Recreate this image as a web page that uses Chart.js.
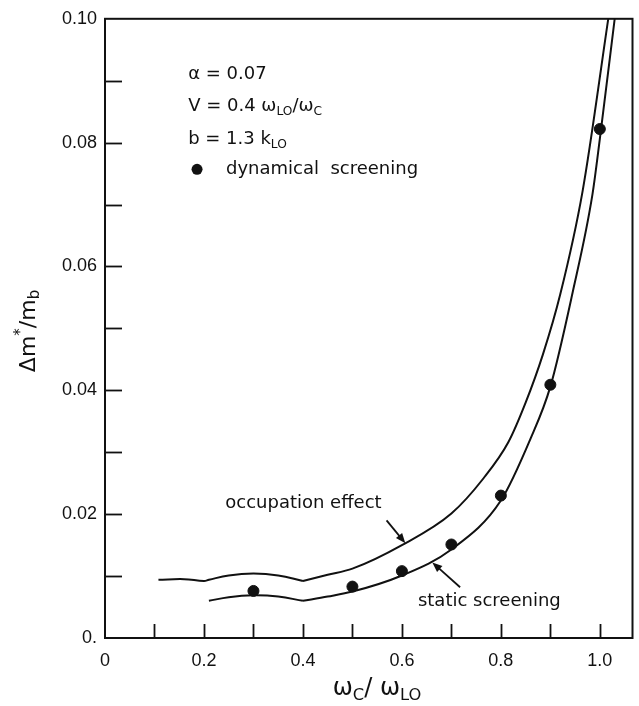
<!DOCTYPE html>
<html><head><meta charset="utf-8">
<script src="https://cdn.jsdelivr.net/npm/chart.js@4"></script>
<style>html,body{margin:0;padding:0;background:#fff;}canvas{display:block;}</style>
</head><body>
<canvas id="c" width="639" height="706"></canvas>
<script>
// ---- data ----
const occupationX = [0.108, 0.16, 0.20, 0.21, 0.25, 0.30, 0.35, 0.40, 0.45, 0.50, 0.60, 0.70, 0.765, 0.815, 0.85, 0.885, 0.92, 0.965, 1.017];
const occupationY = [0.0094, 0.0095, 0.0092, 0.0094, 0.0101, 0.0104, 0.0101, 0.0092, 0.0102, 0.0112, 0.0150, 0.0201, 0.0258, 0.0316, 0.0380, 0.0458, 0.0555, 0.0721, 0.100];
const staticX = [0.21, 0.25, 0.30, 0.35, 0.40, 0.45, 0.50, 0.60, 0.70, 0.80, 0.86, 0.90, 0.945, 0.985, 1.0, 1.03];
const staticY = [0.0060, 0.0066, 0.0069, 0.0067, 0.0060, 0.0067, 0.0075, 0.0101, 0.0143, 0.0222, 0.0322, 0.0406, 0.0558, 0.0716, 0.0806, 0.100];
const dynamicX = [0.3, 0.5, 0.6, 0.7, 0.8, 0.9, 1.0];
const dynamicY = [0.0076, 0.0083, 0.0108, 0.0151, 0.0230, 0.0409, 0.0822];
const kinkX = 0.4;
const xTickLabels = ['0', '', '0.2', '', '0.4', '', '0.6', '', '0.8', '', '1.0'];
const yTickLabels = ['0.', '', '0.02', '', '0.04', '', '0.06', '', '0.08', '', '0.10'];

const ink = '#111';
const FONT = '"DejaVu Sans", sans-serif';
const TICKFONT = '"Liberation Sans", Arial, sans-serif';

function pts(xs, ys, from, to) {
  const out = [];
  xs.forEach((x, i) => { if (x >= from && x <= to) out.push({x: x, y: ys[i]}); });
  return out;
}
function curve(data, monotone) {
  return {type: 'line', data: data, borderColor: ink, borderWidth: 2, pointRadius: 0,
    fill: false, tension: 0.4, cubicInterpolationMode: monotone ? 'monotone' : 'default'};
}

const datasets = [
  curve(pts(occupationX, occupationY, 0, kinkX), false),
  curve(pts(occupationX, occupationY, kinkX, 2), true),
  curve(pts(staticX, staticY, 0, kinkX), false),
  curve(pts(staticX, staticY, kinkX, 2), true),
  {type: 'scatter', data: dynamicX.map((x, i) => ({x: x, y: dynamicY[i]})),
   backgroundColor: ink, borderColor: ink, pointRadius: 5.5, pointHoverRadius: 5.5}
];

function drawRich(ctx, parts, x, y, align, size) {
  const spec = parts.map(p => {
    const kind = p[1] || '';
    const s = kind ? size * 0.68 : size;
    const dy = kind === 'sub' ? size * 0.3 : (kind === 'sup' ? -size * 0.35 : 0);
    ctx.font = s + 'px ' + FONT;
    return {t: p[0], s: s, dy: dy, w: ctx.measureText(p[0]).width};
  });
  const total = spec.reduce((a, b) => a + b.w, 0);
  let cx = align === 'center' ? x - total / 2 : x;
  ctx.textAlign = 'left';
  ctx.textBaseline = 'middle';
  spec.forEach(p => {
    ctx.font = p.s + 'px ' + FONT;
    ctx.fillText(p.t, cx, y + p.dy);
    cx += p.w;
  });
}
function arrow(ctx, x1, y1, x2, y2) {
  const a = Math.atan2(y2 - y1, x2 - x1), L = 10, W = 4;
  ctx.beginPath(); ctx.moveTo(x1, y1); ctx.lineTo(x2 - L * 0.6 * Math.cos(a), y2 - L * 0.6 * Math.sin(a)); ctx.stroke();
  ctx.beginPath();
  ctx.moveTo(x2, y2);
  ctx.lineTo(x2 - L * Math.cos(a) + W * Math.sin(a), y2 - L * Math.sin(a) - W * Math.cos(a));
  ctx.lineTo(x2 - L * Math.cos(a) - W * Math.sin(a), y2 - L * Math.sin(a) + W * Math.cos(a));
  ctx.closePath(); ctx.fill();
}

const decor = {
  id: 'decor',
  afterDraw(chart) {
    const ctx = chart.ctx, a = chart.chartArea, xs = chart.scales.x, ys = chart.scales.y;
    const X = v => xs.getPixelForValue(v), Y = v => ys.getPixelForValue(v);
    ctx.save();
    ctx.strokeStyle = ink; ctx.fillStyle = ink;
    // frame
    ctx.lineWidth = 2;
    ctx.strokeRect(a.left, a.top, a.right - a.left, a.bottom - a.top);
    // inward tick marks
    ctx.lineWidth = 1.8;
    ys.ticks.forEach(t => {
      if (t.value > 0.0001 && t.value < 0.0999) {
        const py = Math.round(Y(t.value)) + 0.5;
        ctx.beginPath(); ctx.moveTo(a.left, py); ctx.lineTo(a.left + 17, py); ctx.stroke();
      }
    });
    xs.ticks.forEach(t => {
      if (t.value > 0.05) {
        const px = Math.round(X(t.value)) + 0.5;
        ctx.beginPath(); ctx.moveTo(px, a.bottom); ctx.lineTo(px, a.bottom - 14); ctx.stroke();
      }
    });
    // axis titles
    drawRich(ctx, [['ω'], ['C', 'sub'], ['/ ω'], ['LO', 'sub']], 377, 689, 'center', 24);
    ctx.save();
    ctx.translate(29, 331); ctx.rotate(-Math.PI / 2);
    drawRich(ctx, [['Δm'], ['*', 'sup'], ['/m'], ['b', 'sub']], 0, 0, 'center', 22);
    ctx.restore();
    // parameter block
    const lx = X(0.168);
    drawRich(ctx, [['α = 0.07']], lx, Y(0.0910), 'left', 18);
    drawRich(ctx, [['V = 0.4 ω'], ['LO', 'sub'], ['/ω'], ['C', 'sub']], lx, Y(0.0858), 'left', 18);
    drawRich(ctx, [['b = 1.3 k'], ['LO', 'sub']], lx, Y(0.0805), 'left', 18);
    ctx.beginPath(); ctx.arc(X(0.186), Y(0.0757), 5.5, 0, Math.PI * 2); ctx.fill();
    drawRich(ctx, [['dynamical  screening']], X(0.2445), Y(0.0757), 'left', 18);
    // curve labels with arrows
    drawRich(ctx, [['occupation effect']], X(0.401), Y(0.0218), 'center', 18);
    drawRich(ctx, [['static screening']], X(0.7767), Y(0.0060), 'center', 18);
    ctx.lineWidth = 1.8;
    arrow(ctx, X(0.569), Y(0.0190), X(0.607), Y(0.0153));
    arrow(ctx, X(0.7176), Y(0.0082), X(0.6614), Y(0.0122));
    ctx.restore();
  }
};

new Chart(document.getElementById('c'), {
  data: {datasets: datasets},
  options: {
    responsive: false, animation: false,
    layout: {padding: {top: 17, right: 2, left: 0, bottom: 0}},
    plugins: {legend: {display: false}, tooltip: {enabled: false}},
    scales: {
      x: {type: 'linear', min: 0, max: 1.066,
        afterFit: s => { s.height = 68; },
        grid: {display: false, drawTicks: false}, border: {display: false},
        ticks: {stepSize: 0.1, includeBounds: false, padding: 12, color: ink,
          font: {family: TICKFONT, size: 18}, maxRotation: 0, autoSkip: false,
          callback: (v, i) => xTickLabels[i] !== undefined ? xTickLabels[i] : ''}},
      y: {type: 'linear', min: 0, max: 0.1,
        afterFit: s => { s.width = 105; },
        grid: {display: false, drawTicks: false}, border: {display: false},
        ticks: {stepSize: 0.01, padding: 8, color: ink, autoSkip: false,
          font: {family: TICKFONT, size: 18},
          callback: (v, i) => yTickLabels[i] !== undefined ? yTickLabels[i] : ''}}
    }
  },
  plugins: [decor]
});
</script>
</body></html>
